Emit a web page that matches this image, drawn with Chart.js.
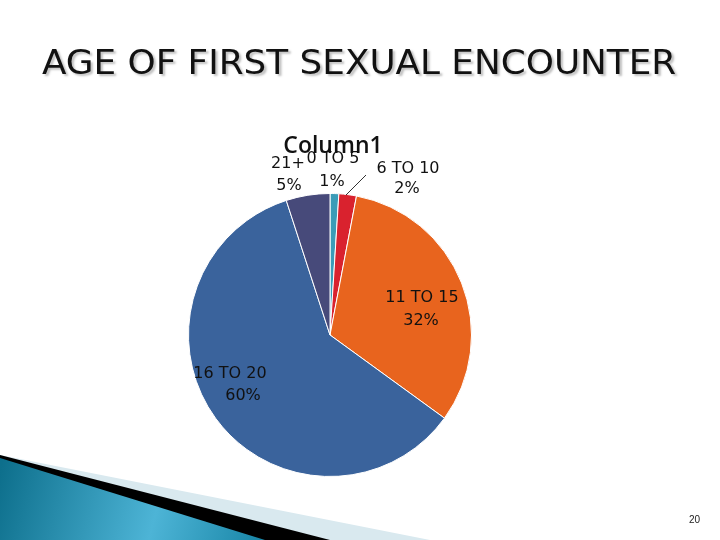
<!DOCTYPE html>
<html><head><meta charset="utf-8">
<script src="https://cdn.jsdelivr.net/npm/chart.js@4/dist/chart.umd.min.js"></script>
<style>
html,body{margin:0;padding:0;background:#fff;width:720px;height:540px;overflow:hidden}
#wrap{position:relative;width:720px;height:540px}
canvas{position:absolute;left:0;top:0}
#title{position:absolute;left:42px;top:42px;font-family:"DejaVu Sans Condensed","DejaVu Sans";font-size:34px;color:#111;white-space:nowrap;transform-origin:0 0;transform:scaleX(1.17);text-shadow:2px 2px 2px rgba(0,0,0,0.25)}
#pg{position:absolute;left:689px;top:514px;font-family:"Liberation Sans";font-size:10px;color:#222}
</style></head><body>
<div id="wrap">
<canvas id="c" width="720" height="540"></canvas>
<div id="title">AGE OF FIRST SEXUAL ENCOUNTER</div>
<div id="pg">20</div>
</div>
<script>
const categories = ["0 TO 5","6 TO 10","11 TO 15","16 TO 20","21+"];
const values = [1, 2, 32, 60, 5];
const pctLabels = ["1%","2%","32%","60%","5%"];
const colors = ["#3b9cb8","#d9222e","#e8641e","#3a639c","#474a7a"];
const labelPos = [[333,163,332,186],[408,173,407,193],[422,302,421,325],[230,378,243,400],[288,168,289,190]];
const labelAlign = ["center","center","center","center","center"];

const deco = {
  id:'deco',
  beforeDraw(chart){
    const ctx = chart.ctx;
    ctx.save();
    ctx.fillStyle = "#d9e9ef";
    ctx.beginPath(); ctx.moveTo(0,455); ctx.lineTo(430,540); ctx.lineTo(0,540); ctx.closePath(); ctx.fill();
    ctx.fillStyle = "#000";
    ctx.beginPath(); ctx.moveTo(0,455); ctx.lineTo(330,540); ctx.lineTo(0,540); ctx.closePath(); ctx.fill();
    const g = ctx.createLinearGradient(0,470,260,540);
    g.addColorStop(0,"#0d6f8c"); g.addColorStop(0.6,"#4db4d6"); g.addColorStop(1,"#1a87a8");
    ctx.fillStyle = g;
    ctx.beginPath(); ctx.moveTo(0,458); ctx.lineTo(265,540); ctx.lineTo(0,540); ctx.closePath(); ctx.fill();
    ctx.restore();
  },
  afterDraw(chart){
    const ctx = chart.ctx;
    ctx.save();
    ctx.fillStyle = "#111";
    ctx.font = "600 23px 'Open Sans'";
    ctx.textAlign = "center";
    ctx.textBaseline = "alphabetic";
    ctx.fillText("Column1", 333, 153);
    ctx.font = "16px 'DejaVu Sans'";
    categories.forEach((c,i)=>{
      const [x,y,px,py] = labelPos[i];
      ctx.fillText(c, x, y);
      ctx.fillText(pctLabels[i], px, py);
    });
    ctx.strokeStyle = "#333"; ctx.lineWidth = 1;
    ctx.beginPath(); ctx.moveTo(346,195); ctx.lineTo(366,175); ctx.stroke();
    ctx.restore();
  }
};

new Chart(document.getElementById('c'), {
  type:'pie',
  data:{labels:categories, datasets:[{data:values, backgroundColor:colors, borderColor:"#fff", borderWidth:1}]},
  options:{
    responsive:false, animation:false,
    layout:{padding:{left:188,right:248,top:193,bottom:63}},
    plugins:{legend:{display:false}, tooltip:{enabled:false}}
  },
  plugins:[deco]
});
</script>
</body></html>
